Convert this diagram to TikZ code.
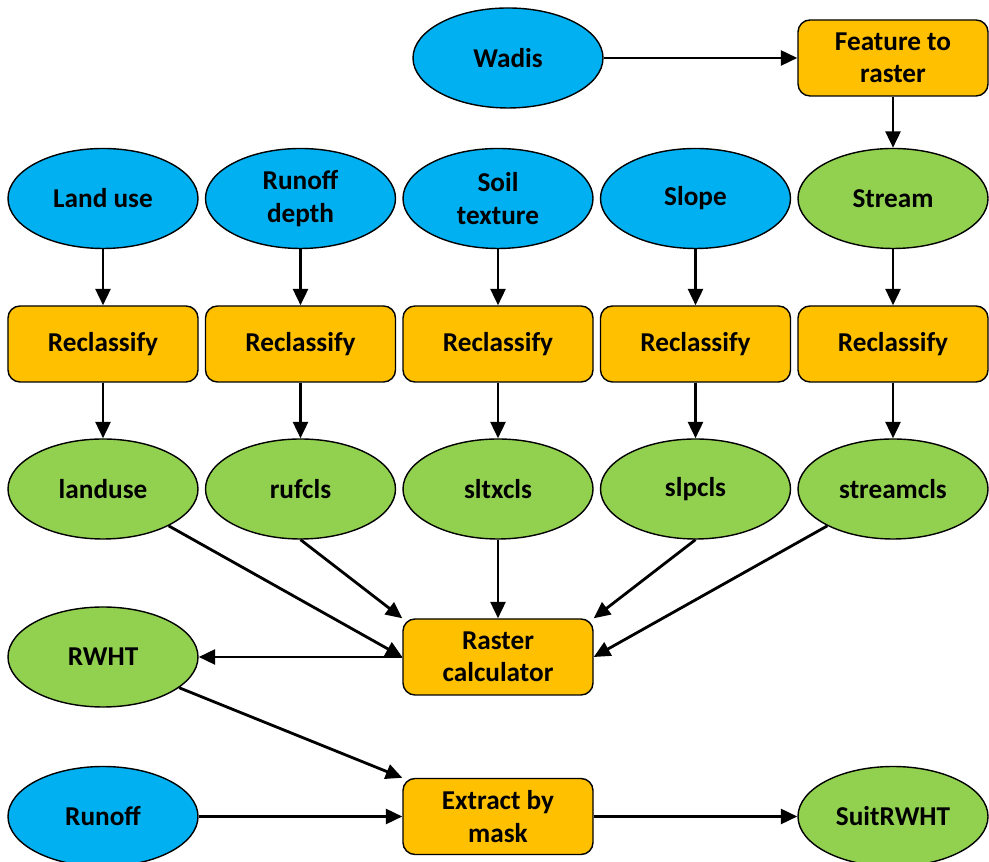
\documentclass[tikz,border=0pt]{standalone}
\usepackage{fontspec}
\setmainfont{Carlito}
\usetikzlibrary{arrows.meta,positioning,shapes.geometric}
\definecolor{inblue}{HTML}{00B0F0}
\definecolor{outgreen}{HTML}{92D050}
\definecolor{toolorange}{HTML}{FFC000}

\begin{document}
\begin{tikzpicture}[>={Triangle[length=0.33cm,width=0.3cm]},
  every node/.style={font=\fontsize{15.5}{18.5}\selectfont\bfseries, align=center},
  data/.style={ellipse, draw, line width=0.8pt, minimum width=3.8cm, minimum height=2cm, inner sep=0pt},
  inp/.style={data, fill=inblue},
  outp/.style={data, fill=outgreen},
  tool/.style={rectangle, rounded corners=0.24cm, draw, line width=0.8pt, fill=toolorange,
    minimum width=3.8cm, minimum height=1.52cm, inner sep=0pt},
  conn/.style={->, line width=1.6pt}]
  \useasboundingbox (0,0) rectangle (19.78,17.24);

  \node[inp] (wadis) at (10.16,16.08) {Wadis};
  \node[tool] (ftr) at (17.86,16.08) {Feature to\\raster};

  \node[inp] (landin) at (2.06,13.27) {Land use};
  \node[inp] (rufin) at (6.01,13.27) {Runoff\\depth};
  \node[inp] (soilin) at (9.96,13.27) {Soil\\texture};
  \node[inp] (slopein) at (13.91,13.27) {Slope};
  \node[outp] (stream) at (17.86,13.27) {Stream};

  \node[tool] (rc1) at (2.06,10.36) {Reclassify};
  \node[tool] (rc2) at (6.01,10.36) {Reclassify};
  \node[tool] (rc3) at (9.96,10.36) {Reclassify};
  \node[tool] (rc4) at (13.91,10.36) {Reclassify};
  \node[tool] (rc5) at (17.86,10.36) {Reclassify};

  \node[outp] (landuse) at (2.06,7.46) {landuse};
  \node[outp] (rufcls) at (6.01,7.46) {rufcls};
  \node[outp] (sltxcls) at (9.96,7.46) {sltxcls};
  \node[outp] (slpcls) at (13.91,7.46) {slpcls};
  \node[outp] (streamcls) at (17.86,7.46) {streamcls};

  \node[tool] (calc) at (9.96,4.10) {Raster\\calculator};
  \node[outp] (rwht) at (2.06,4.10) {RWHT};

  \node[inp] (runoff) at (2.06,0.91) {Runoff};
  \node[tool] (mask) at (9.96,0.91) {Extract by\\mask};
  \node[outp] (suit) at (17.86,0.91) {SuitRWHT};

  % stream from wadis
  \draw[conn] (wadis) -- (ftr);
  \draw[conn] (ftr) -- (stream);

  % reclassify each layer
  \draw[conn] (landin) -- (rc1);
  \draw[conn] (rufin) -- (rc2);
  \draw[conn] (soilin) -- (rc3);
  \draw[conn] (slopein) -- (rc4);
  \draw[conn] (stream) -- (rc5);
  \draw[conn] (rc1) -- (landuse);
  \draw[conn] (rc2) -- (rufcls);
  \draw[conn] (rc3) -- (sltxcls);
  \draw[conn] (rc4) -- (slpcls);
  \draw[conn] (rc5) -- (streamcls);

  % overlay
  \draw[conn] (landuse) -- (calc.west);
  \draw[conn] (rufcls.south) -- (calc.north west);
  \draw[conn] (sltxcls) -- (calc);
  \draw[conn] (slpcls.south) -- (calc.north east);
  \draw[conn] (streamcls) -- (calc.east);
  \draw[conn] (calc.west) -- (rwht);

  % mask
  \draw[conn] (rwht) -- (mask.north west);
  \draw[conn] (runoff) -- (mask);
  \draw[conn] (mask) -- (suit);
\end{tikzpicture}
\end{document}
